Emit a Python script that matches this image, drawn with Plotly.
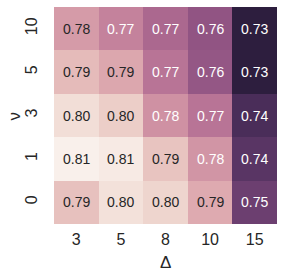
import numpy as np
import plotly.graph_objects as go

# Data
x_labels = ["3", "5", "8", "10", "15"]          # Δ
y_labels = ["0", "1", "3", "5", "10"]           # ν (bottom to top)
row_0 = [0.7939, 0.8035, 0.7997, 0.7871, 0.7475]
row_1 = [0.8083, 0.8064, 0.7948, 0.7804, 0.7427]
row_3 = [0.8026, 0.7977, 0.7794, 0.7697, 0.7389]
row_5 = [0.7919, 0.7861, 0.7697, 0.7582, 0.7310]
row_10 = [0.7823, 0.7746, 0.7652, 0.7572, 0.7311]

z = np.array([row_0, row_1, row_3, row_5, row_10])
zmin, zmax = float(z.min()), float(z.max())


def cubehelix(x, start=0.0, rot=0.4, gamma=1.0, hue=0.8):
    xg = x ** gamma
    a = hue * xg * (1 - xg) / 2
    phi = 2 * np.pi * (start / 3 + rot * x)
    r = xg + a * (-0.14861 * np.cos(phi) + 1.78277 * np.sin(phi))
    g = xg + a * (-0.29227 * np.cos(phi) - 0.90649 * np.sin(phi))
    b = xg + a * (1.97294 * np.cos(phi))
    return np.clip([r, g, b], 0, 1)


dark, light = 0.15, 0.95
stops = np.linspace(0, 1, 33)
colorscale = []
for s in stops:
    r, g, b = cubehelix(dark + (light - dark) * s)
    colorscale.append([float(s), f"rgb({int(round(r*255))},{int(round(g*255))},{int(round(b*255))})"])


def rel_lum(rgb):
    c = np.array(rgb)
    c = np.where(c <= 0.03928, c / 12.92, ((c + 0.055) / 1.055) ** 2.4)
    return 0.2126 * c[0] + 0.7152 * c[1] + 0.0722 * c[2]


lum_threshold = rel_lum(cubehelix(0.67))

xi = list(range(len(x_labels)))
yi = list(range(len(y_labels)))

fig = go.Figure(go.Heatmap(
    z=z, x=xi, y=yi,
    colorscale=colorscale, zmin=zmin, zmax=zmax,
    showscale=False, xgap=0, ygap=0, hoverinfo="skip",
))

FONT = "Liberation Sans, Arial, sans-serif"
annotations = []
for i in yi:
    for j in xi:
        v = z[i, j]
        t = (v - zmin) / (zmax - zmin)
        rgb = cubehelix(dark + (light - dark) * t)
        col = "#262626" if rel_lum(rgb) > lum_threshold else "white"
        annotations.append(dict(
            x=j, y=i, xref="x", yref="y", text=f"{v:.2f}", showarrow=False,
            font=dict(size=14, color=col, family=FONT),
        ))

# axis titles
annotations.append(dict(
    text="Δ", xref="paper", yref="paper", x=0.5, y=0, yshift=-38,
    showarrow=False, font=dict(size=17, color="#262626", family=FONT),
    xanchor="center", yanchor="middle",
))
annotations.append(dict(
    text="ν", xref="paper", yref="paper", x=0, y=0.5, xshift=-40, yshift=-1,
    showarrow=False, textangle=-90, font=dict(size=17, color="#262626", family=FONT),
    xanchor="center", yanchor="middle",
))

fig.update_layout(
    template="none",
    width=284, height=278,
    margin=dict(l=54, r=7, t=7, b=54, autoexpand=False),
    paper_bgcolor="white", plot_bgcolor="white",
    font=dict(family=FONT, color="#262626"),
    annotations=annotations,
    xaxis=dict(
        range=[-0.5, len(x_labels) - 0.5], tickmode="array", tickvals=xi, ticktext=x_labels,
        showgrid=False, zeroline=False, showline=False, ticks="", automargin=False,
        tickfont=dict(size=16), ticklabelstandoff=4,
    ),
    yaxis=dict(
        range=[-0.5, len(y_labels) - 0.5], tickmode="array", tickvals=yi, ticktext=y_labels,
        showgrid=False, zeroline=False, showline=False, ticks="", automargin=False,
        tickfont=dict(size=16), tickangle=-90, ticklabelstandoff=13,
    ),
)

fig.write_html(
    "out.html",
    config={"displayModeBar": False},
    post_script="document.body.style.margin='0';document.body.style.overflow='hidden';",
)
